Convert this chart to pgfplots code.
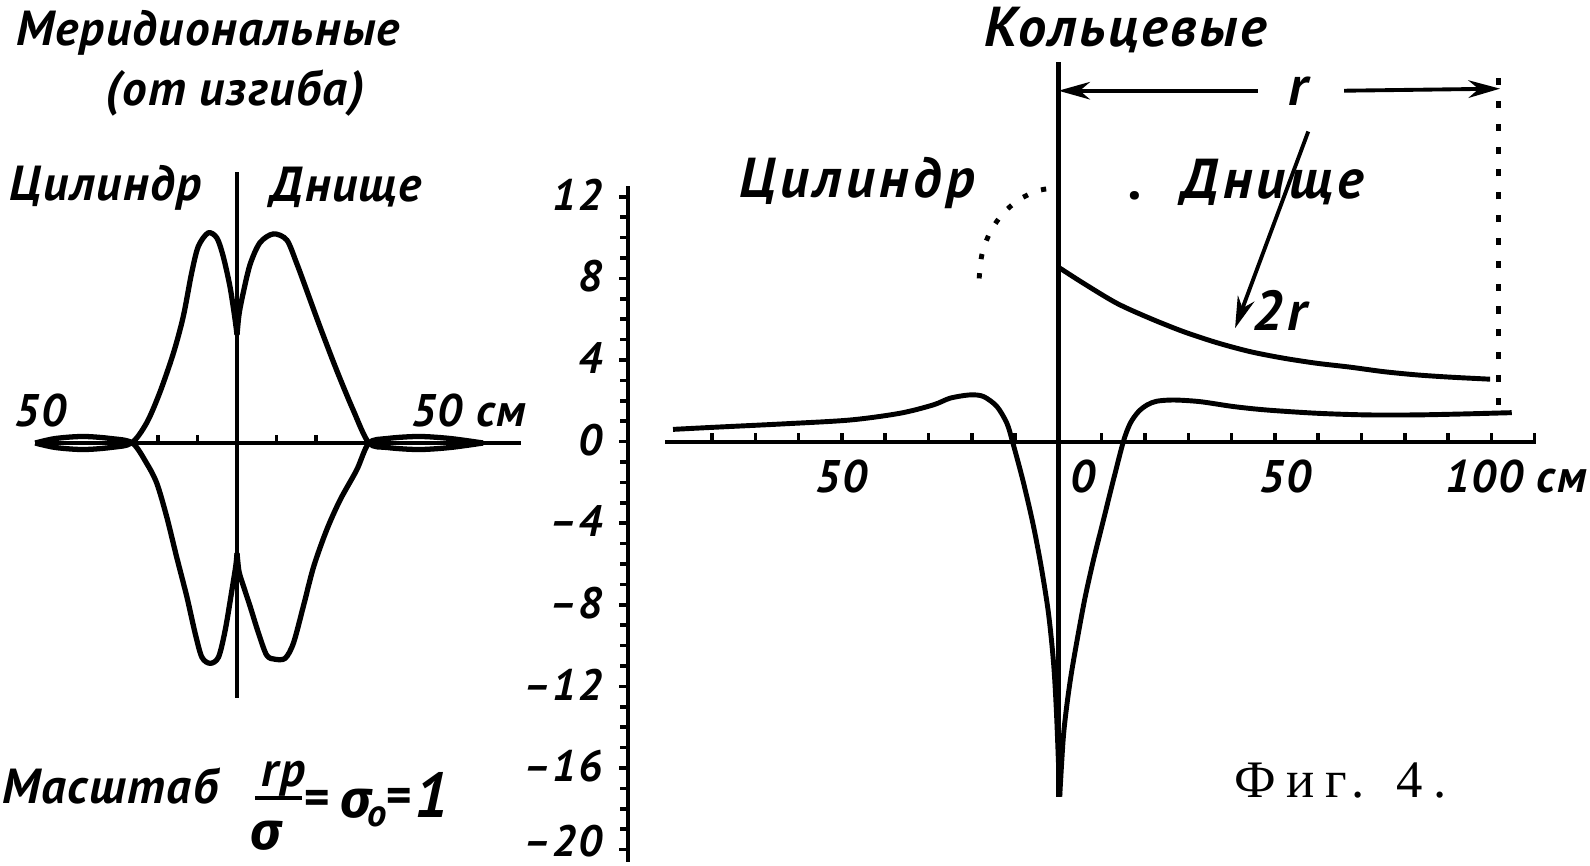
\documentclass[border=0pt]{standalone}
\usepackage{fontspec}
\setmainfont{PT Sans}
\newfontfamily\handL[LetterSpace=3]{PT Sans}
\newfontfamily\handR[LetterSpace=8]{PT Sans}
\newfontfamily\handK[LetterSpace=5]{PT Sans}
\newfontfamily\hand[LetterSpace=4]{PT Sans}
\newfontfamily\grk{Fira Sans}
\newfontfamily\figfont[LetterSpace=20]{Liberation Serif}
\usepackage{pgfplots}
\pgfplotsset{compat=1.18}
\usetikzlibrary{arrows.meta}

\begin{document}
\begin{tikzpicture}
\path[use as bounding box] (0,0) rectangle (15.9,8.66);
\tikzset{
 lblL/.style={font=\handL\bfseries\itshape\fontsize{14}{14}\selectfont, inner sep=0pt},
 lblR/.style={font=\handR\bfseries\itshape\fontsize{16}{16}\selectfont, inner sep=0pt},
 lblK/.style={font=\handK\bfseries\itshape\fontsize{16}{16}\selectfont, inner sep=0pt},
 num/.style={font=\hand\bfseries\itshape\fontsize{13}{13}\selectfont, inner sep=0pt},
 sig/.style={font=\grk\bfseries\itshape\fontsize{15}{15}\selectfont, inner sep=0pt},
}
% ---------------- left panel: meridional (bending) ----------------
\begin{axis}[
  at={(0.352cm,1.68cm)}, anchor=south west, scale only axis,
  width=4.862cm, height=5.263cm,
  xmin=-51.1, xmax=72, ymin=-12.5, ymax=13.3,
  axis lines=middle, axis line style={-, line width=1.1pt},
  xtick={-20,-10,10,20}, xticklabels={}, ytick=\empty,
  tick align=inside, major tick length=0.08cm,
  tick style={line width=1pt, black},
  clip=false,
]
\addplot[line width=1.5pt, smooth] coordinates {(-51.1,0) (-46,-0.22) (-39,-0.32) (-32,-0.22) (-26.7,0) (-22.9,0.98) (-19.6,2.45) (-16.1,4.41) (-13.6,6.21) (-11.5,8.33) (-9.8,9.64) (-7.3,10.3) (-5.1,10.05) (-3.5,9.15) (-1.8,7.68) (-0.6,6.2) (0,5.3)};
\addplot[line width=1.5pt, smooth] coordinates {(0,5.3) (0.5,6.3) (1.5,7.3) (3.3,8.75) (5.8,9.82) (9.2,10.25) (12.6,9.95) (15.1,8.81) (17.6,7.5) (21.0,5.7) (25.2,3.58) (29.4,1.62) (33.4,0) (38,-0.22) (46,-0.32) (54,-0.22) (62.3,0)};
\addplot[line width=1.5pt, smooth] coordinates {(-51.1,0) (-46,0.22) (-39,0.32) (-32,0.22) (-26.5,0) (-22.9,-0.99) (-20.3,-1.98) (-17.8,-3.62) (-15.3,-5.58) (-12.7,-7.54) (-10.6,-9.33) (-8.9,-10.5) (-6.8,-10.8) (-4.7,-10.5) (-3.0,-9.18) (-1.3,-7.22) (-0.3,-6.0) (0,-5.4)};
\addplot[line width=1.5pt, smooth] coordinates {(0,-5.4) (0.5,-6.3) (1.6,-7.0) (3.3,-8.0) (5.4,-9.3) (7.5,-10.4) (9.6,-10.6) (12.2,-10.55) (14.3,-9.8) (16.8,-8.0) (19.4,-6.06) (22.7,-4.26) (26.1,-2.79) (30.3,-1.32) (33.4,0) (38,0.22) (46,0.32) (54,0.22) (62.3,0)};
\end{axis}

% ---------------- right panel: hoop stresses ----------------
\begin{axis}[
  at={(6.28cm,0.041cm)}, anchor=south west, scale only axis,
  width=9.08cm, height=6.763cm,
  xmin=-99.4, xmax=110.3, ymin=-20.6, ymax=12.55,
  axis x line*=middle, axis y line*=left,
  x axis line style={-, shorten <=0.37cm, line width=1.1pt},
  y axis line style={-, line width=1.3pt},
  xtick={-80,-70,...,-10,10,20,...,110}, xticklabels={},
  ytick={-20,-16,...,12}, yticklabels={\raisebox{0.14cm}{–20},–16,–12,–8,–4,0,4,8,12},
  minor ytick={-19,...,11},
  xtick align=inside, ytick align=outside,
  major tick length=0.09cm, minor tick length=0.08cm,
  tick style={line width=1pt, black},
  yticklabel style={font=\hand\bfseries\itshape\fontsize{12.5}{12.5}\selectfont, inner sep=0pt, xshift=-0.16cm, yshift=0.02cm},
  clip=false,
]
\addplot[line width=1.4pt, smooth] coordinates {(-89,0.6) (-78.9,0.71) (-63.5,0.87) (-48.1,1.06) (-36.6,1.39) (-28.9,1.8) (-25,2.13) (-20.4,2.29) (-17.3,2.21) (-14.2,1.72) (-11.9,0.9) (-10.6,0) (-8.2,-1.9) (-5.9,-4.0) (-4.0,-6.1) (-2.3,-8.4) (-1.1,-10.9) (-0.4,-13.5) (0.3,-17.4)};
\addplot[line width=1.4pt, smooth] coordinates {(0.3,-17.4) (1.1,-14.6) (1.9,-13.0) (3.0,-11.35) (4.6,-9.4) (6.2,-7.6) (8.1,-5.8) (10.4,-3.84) (12.7,-1.88) (15.0,0) (16.6,0.9) (18.5,1.47) (20.5,1.8) (22.7,1.98) (26.6,2.04) (32.7,1.96) (40.4,1.72) (48.1,1.55) (59.7,1.39) (71.2,1.31) (82.8,1.31) (94.3,1.36) (104.7,1.42)};
\addplot[line width=1.4pt, smooth] coordinates {(0,8.55) (5.8,7.76) (13.5,6.78) (21.2,6.04) (28.9,5.39) (36.6,4.85) (44.3,4.41) (52.0,4.09) (59.7,3.84) (67.4,3.65) (75.1,3.43) (82.8,3.27) (90.5,3.16) (99.7,3.06)};
\addplot[line width=1.2pt] coordinates {(0,-17.4) (0,18.6)};
\addplot[line width=1.6pt, dash pattern=on 2pt off 4.5pt] coordinates {(101.6,1.8) (101.6,18.3)};
\addplot[line width=1.4pt, dash pattern=on 1.5pt off 4pt, smooth] coordinates {(-18.3,8) (-17.68,9.15) (-15.85,10.23) (-12.94,11.15) (-9.15,11.85) (-4.74,12.3) (-0.5,12.45)};
\draw[line width=1.1pt, -{Stealth[length=9pt,width=5pt]}] (axis cs:46,17.2) -- (axis cs:0,17.2);
\draw[line width=1.1pt, -{Stealth[length=9pt,width=5pt]}] (axis cs:66,17.2) -- (axis cs:102,17.3);
\draw[line width=1.1pt, -{Stealth[length=9pt,width=5pt]}] (axis cs:57.7,15.2) -- (axis cs:40.8,5.56);
\end{axis}

% ---------------- texts ----------------
\node[lblL] at (2.08,8.335) {Меридиональные};
\node[lblL] at (2.35,7.73) {(от изгиба)};
\node[lblL] at (1.055,6.784) {Цилиндр};
\node[lblL] at (3.46,6.784) {Днище};
\node[num] at (0.406,4.553) {50};
\node[num] at (4.685,4.553) {50 см};
\node[lblL] at (1.10,0.80) {Масштаб};
\node[lblL] at (2.835,0.87) {rp};
\draw[line width=1.3pt] (2.55,0.68) -- (3.02,0.68);
\node[sig] at (2.665,0.30) {σ};
\node[lblL] at (3.155,0.64) {=};
\node[sig] at (3.565,0.625) {σ};
\node[lblL, font=\handL\bfseries\itshape\fontsize{11}{11}\selectfont] at (3.775,0.495) {o};
\node[lblL] at (3.975,0.66) {=};
\node[lblL, font=\handL\bfseries\itshape\fontsize{18}{18}\selectfont] at (4.315,0.71) {1};

\node[lblK] at (11.255,8.356) {Кольцевые};
\node[lblR] at (8.57,6.835) {Цилиндр};
\node[lblR] at (11.357,6.70) {.};
\node[lblR] at (12.726,6.835) {Днище};
\node[lblR] at (12.98,7.75) {r};
\node[lblR] at (12.8,5.56) {2r};
\node[font=\figfont\fontsize{15}{15}\selectfont, inner sep=0pt] at (13.405,0.85) {Фиг. 4.};
\node[num] at (8.416,3.894) {50};
\node[num] at (10.83,3.894) {0};
\node[num] at (12.857,3.894) {50};
\node[num] at (15.16,3.894) {100 см};
\end{tikzpicture}
\end{document}
